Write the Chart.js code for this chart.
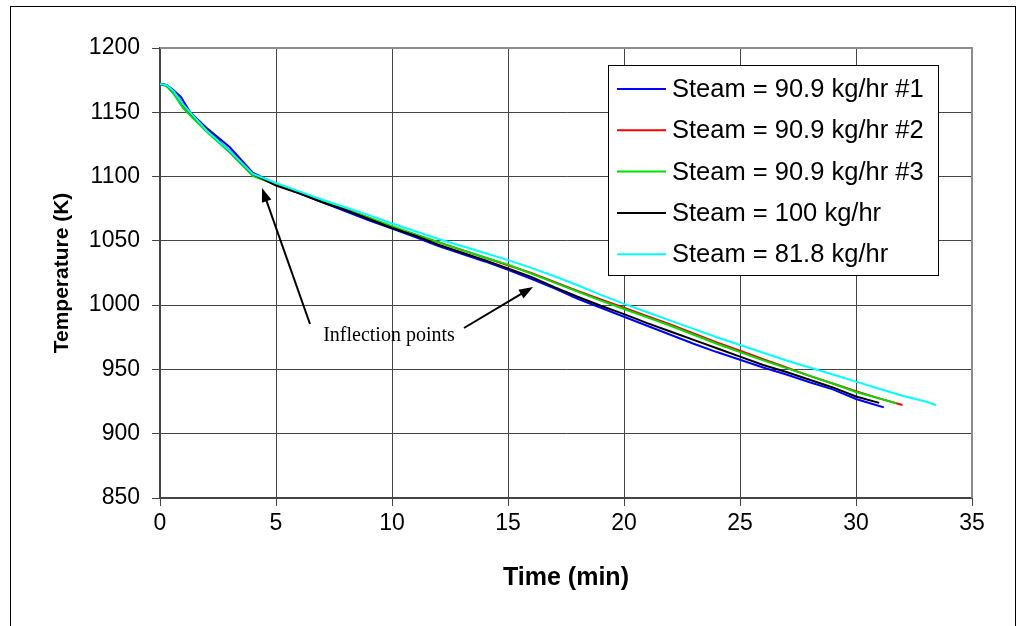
<!DOCTYPE html>
<html>
<head>
<meta charset="utf-8">
<script src="https://cdn.jsdelivr.net/npm/chart.js@4.4.0/dist/chart.umd.min.js"></script>
<style>
  body { margin: 0; background: #fff; }
  #wrap { width: 1024px; height: 626px; }
</style>
</head>
<body>
<div id="wrap"><canvas id="tempchart" width="1024" height="626"></canvas></div>
<script>
// series labels and colours
var seriesNames = ["Steam = 90.9 kg/hr #1", "Steam = 90.9 kg/hr #2", "Steam = 90.9 kg/hr #3", "Steam = 100 kg/hr", "Steam = 81.8 kg/hr"];
var seriesColors = ["#0000ff", "#ff0000", "#00e000", "#000000", "#00ffff"];

// time (min) and temperature (K)
var blueTime = [0, 0.3, 0.6, 0.9, 1.3, 2, 3, 4, 5, 6, 7, 8, 9, 10, 11, 12, 13, 14, 15, 16, 17, 18, 19, 20, 21, 22, 23, 24, 25, 26, 27, 28, 29, 30, 31, 31.2];
var blueTemp = [1172, 1171, 1167, 1162, 1150, 1138, 1123, 1103, 1094, 1087, 1080, 1073, 1066, 1059.5, 1053, 1046, 1040, 1034, 1027.5, 1020.5, 1013, 1005, 998, 991, 984, 977, 970, 963.5, 957.5, 951.5, 946, 940, 934.5, 927, 921.5, 920.5];

var redTime = [0, 0.3, 0.6, 1, 1.5, 2, 3, 4, 5, 6, 7, 8, 9, 10, 11, 12, 13, 14, 15, 16, 17, 18, 19, 20, 21, 22, 23, 24, 25, 26, 27, 28, 29, 30, 31, 32];
var redTemp = [1172, 1171, 1165, 1155, 1145, 1136, 1119, 1101, 1094, 1087.5, 1081, 1074.5, 1068, 1061, 1055, 1049, 1043, 1037, 1031, 1025, 1018, 1011, 1004.5, 998, 991.5, 985, 978, 971, 964.5, 958, 951.5, 945, 939, 933, 927.5, 922.3];

var greenTime = [0, 0.3, 0.6, 1, 1.5, 2, 3, 4, 5, 6, 7, 8, 9, 10, 11, 12, 13, 14, 15, 16, 17, 18, 19, 20, 21, 22, 23, 24, 25, 26, 27, 28, 29, 30, 31, 31.75];
var greenTemp = [1172, 1170, 1164, 1153, 1144, 1135, 1119, 1100.5, 1093.5, 1087.5, 1081, 1074.5, 1068, 1061.5, 1055, 1049, 1043, 1037, 1031.5, 1024.5, 1017.5, 1010.5, 1003.5, 997, 990.5, 984, 977, 970, 963.5, 957, 951, 945, 939, 932.5, 927.5, 923.6];

var blackTime = [0, 0.3, 0.7, 1, 1.5, 2, 3, 4, 5, 6, 7, 8, 9, 10, 11, 12, 13, 14, 15, 16, 17, 18, 19, 20, 21, 22, 23, 24, 25, 26, 27, 28, 29, 30, 31];
var blackTemp = [1172, 1171, 1164, 1156, 1146, 1137, 1120, 1102, 1093, 1087, 1080, 1074, 1067, 1060, 1054, 1047, 1041, 1035, 1028.5, 1022, 1014, 1006.5, 999.5, 993, 986, 979.5, 973, 966.5, 960, 953.5, 948, 942, 936, 929, 924];

var cyanTime = [0, 0.3, 0.6, 1, 1.5, 2, 3, 4, 5, 6, 7, 8, 9, 10, 11, 12, 13, 14, 15, 16, 17, 18, 19, 20, 21, 22, 23, 24, 25, 26, 27, 28, 29, 30, 31, 32, 33, 33.45];
var cyanTemp = [1172, 1171, 1166, 1156, 1146, 1136, 1120, 1102, 1095, 1088.5, 1082, 1076, 1070, 1063.5, 1057.5, 1051.5, 1046, 1040.5, 1035, 1029, 1022.5, 1015.5, 1008, 1001, 994.5, 988, 981.5, 975, 969, 963, 957, 951.5, 946, 940.5, 935, 929.5, 925, 922.3];

var allTimes = [blueTime, redTime, greenTime, blackTime, cyanTime];
var allTemps = [blueTemp, redTemp, greenTemp, blackTemp, cyanTemp];

function toPoints(xs, ys) {
	return xs.map(function(x, i){ return {x: x, y: ys[i]}; });
}

var datasets = seriesNames.map(function(name, i){
	return {
		label: name,
		data: toPoints(allTimes[i], allTemps[i]),
		borderColor: seriesColors[i],
		backgroundColor: seriesColors[i],
		borderWidth: 2,
		pointRadius: 0,
		tension: 0,
		fill: false,
		order: seriesNames.length - i
	};
});

var sans = "'Liberation Sans', Arial, sans-serif";

// frame, plot border, legend box and the annotation
var extras = {
	id: "extras",
	beforeDraw: function(chart){
		var c = chart.ctx;
		c.save();
		c.fillStyle = "#fff";
		c.fillRect(0, 0, chart.width, chart.height);
		c.strokeStyle = "#000";
		c.lineWidth = 1;
		c.strokeRect(10.5, 6.5, 1005, 640);
		c.restore();
	},
	afterDraw: function(chart){
		var c = chart.ctx;
		var a = chart.chartArea;
		c.save();
		// top / right border in grey
		c.strokeStyle = "#8c8c8c";
		c.lineWidth = 2;
		c.beginPath();
		c.moveTo(a.left, a.top);
		c.lineTo(a.right, a.top);
		c.lineTo(a.right, a.bottom);
		c.stroke();

		// legend
		var lx = 608.5, ly = 65.5, lw = 330, lh = 210;
		c.fillStyle = "#fff";
		c.fillRect(lx, ly, lw, lh);
		c.strokeStyle = "#000";
		c.lineWidth = 1;
		c.strokeRect(lx, ly, lw, lh);
		c.font = "25.5px " + sans;
		c.textBaseline = "middle";
		c.textAlign = "left";
		chart.data.datasets.forEach(function(ds, i){
			var yy = 89 + i * 41.3;
			c.strokeStyle = ds.borderColor;
			c.lineWidth = 2;
			c.beginPath();
			c.moveTo(617, yy);
			c.lineTo(666, yy);
			c.stroke();
			c.fillStyle = "#000";
			c.fillText(ds.label, 672, yy + 1);
		});

		// annotation
		c.fillStyle = "#000";
		c.font = "20px 'Liberation Serif', 'Times New Roman', serif";
		c.textAlign = "center";
		c.fillText("Inflection points", 389, 336);
		drawArrow(c, 310, 324, 262, 188);
		drawArrow(c, 464, 328, 533, 287);
		c.restore();
	}
};

function drawArrow(c, x1, y1, x2, y2) {
	var ang = Math.atan2(y2 - y1, x2 - x1);
	var hl = 14, hw = 5;
	c.strokeStyle = "#000";
	c.lineWidth = 2;
	c.beginPath();
	c.moveTo(x1, y1);
	c.lineTo(x2 - Math.cos(ang) * hl * 0.8, y2 - Math.sin(ang) * hl * 0.8);
	c.stroke();
	c.fillStyle = "#000";
	c.beginPath();
	c.moveTo(x2, y2);
	c.lineTo(x2 - Math.cos(ang) * hl + Math.sin(ang) * hw, y2 - Math.sin(ang) * hl - Math.cos(ang) * hw);
	c.lineTo(x2 - Math.cos(ang) * hl - Math.sin(ang) * hw, y2 - Math.sin(ang) * hl + Math.cos(ang) * hw);
	c.closePath();
	c.fill();
}

var ctx = document.getElementById("tempchart");

var chart = new Chart(ctx, {
	type: "line",
	data: { datasets: datasets },
	options: {
		responsive: false,
		animation: false,
		layout: { padding: { left: 46, right: 52, top: 48, bottom: 28 } },
		plugins: {
			legend: { display: false },
			tooltip: { enabled: false }
		},
		scales: {
			x: {
				type: "linear",
				min: 0,
				max: 35,
				ticks: { stepSize: 5, color: "#000", font: { family: sans, size: 23 }, padding: 4, maxRotation: 0 },
				grid: { color: "#444", lineWidth: 1, tickLength: 8 },
				border: { color: "#444", width: 2 },
				title: { display: true, text: "Time (min)", color: "#000", font: { family: sans, size: 25, weight: "bold" }, padding: { top: 0, bottom: 5 } },
				afterFit: function(s){ s.height = 100; }
			},
			y: {
				min: 850,
				max: 1200,
				ticks: {
					stepSize: 50, color: "#000", font: { family: sans, size: 23 }, padding: 12,
					callback: function(v){ return String(v); }
				},
				grid: { color: "#444", lineWidth: 1, tickLength: 8 },
				border: { color: "#444", width: 2 },
				title: { display: true, text: "Temperature (K)", color: "#000", font: { family: sans, size: 21, weight: "bold" }, padding: { top: 4, bottom: 0 } },
				afterFit: function(s){ s.width = 114; }
			}
		}
	},
	plugins: [extras]
});
</script>
</body>
</html>
